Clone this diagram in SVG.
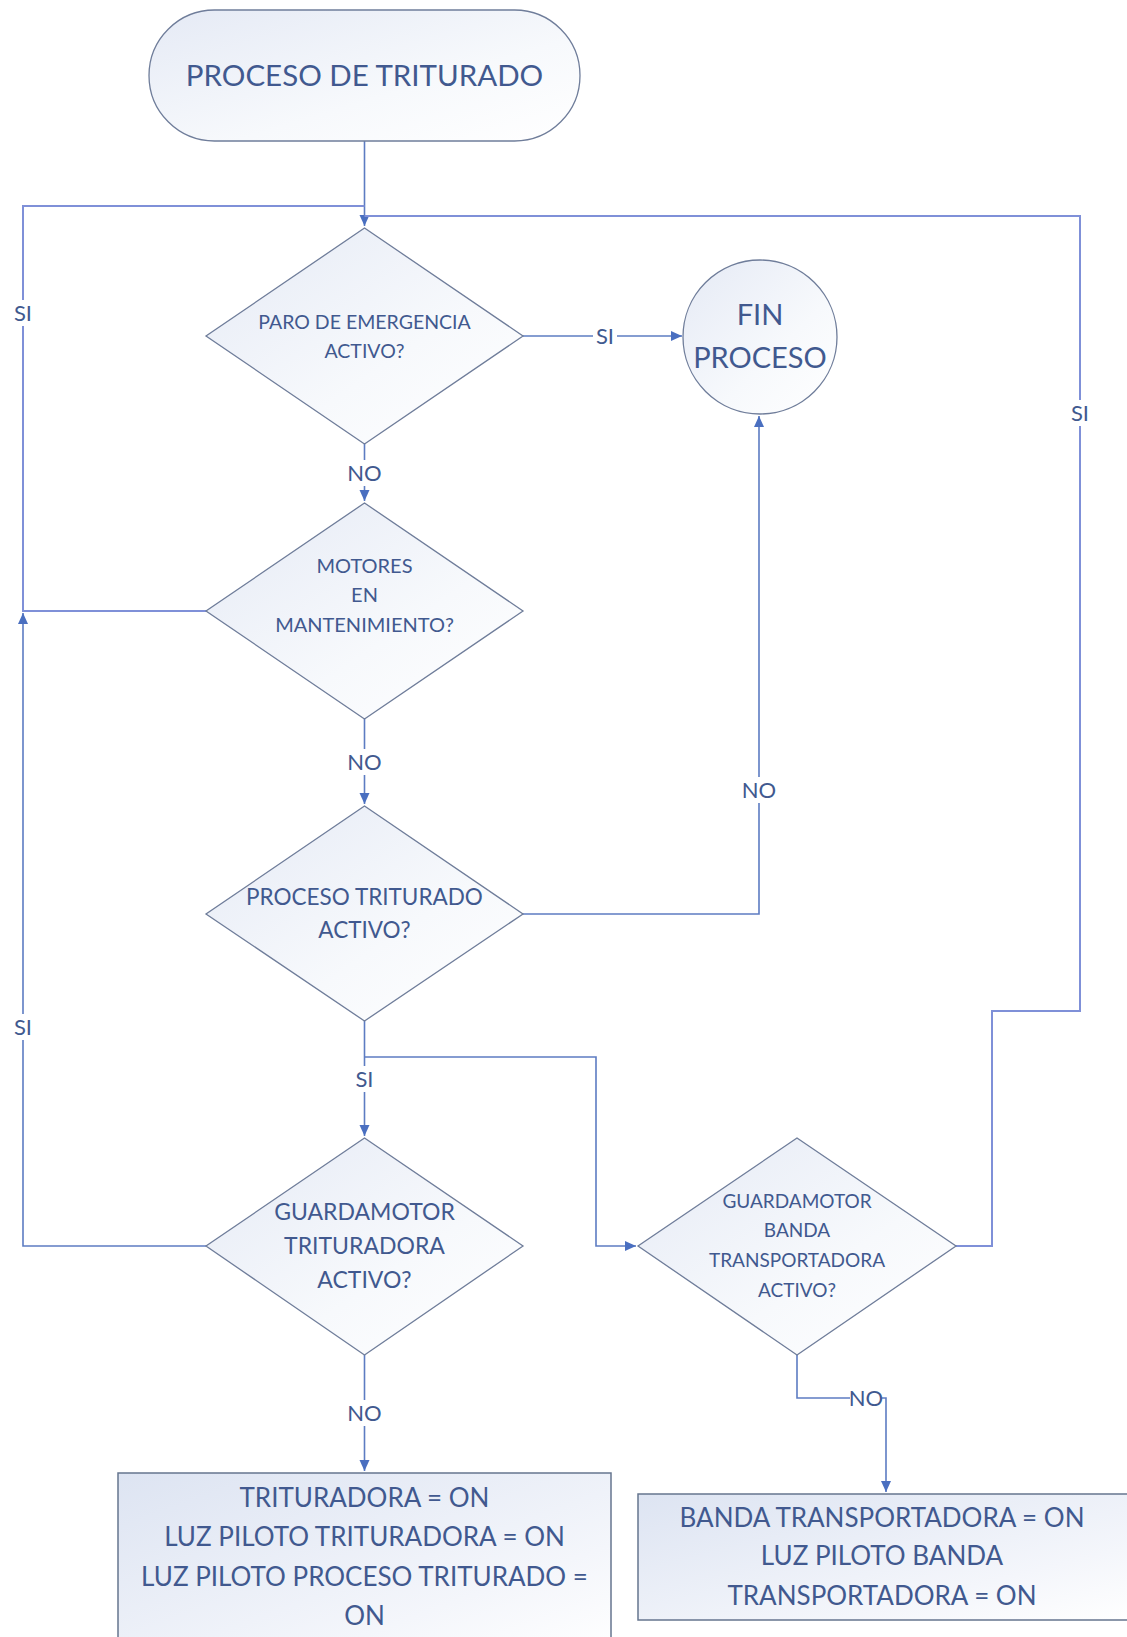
<svg xmlns="http://www.w3.org/2000/svg" width="1127" height="1637" viewBox="0 0 1127 1637">
  <defs>
    <linearGradient id="shapeFill" x1="0" y1="0" x2="1" y2="1">
      <stop offset="0" stop-color="#e5eaf5"/>
      <stop offset="0.6" stop-color="#f7f9fc"/>
      <stop offset="1" stop-color="#ffffff"/>
    </linearGradient>
    <linearGradient id="boxFill" x1="0" y1="0" x2="1" y2="1">
      <stop offset="0" stop-color="#dde4f2"/>
      <stop offset="0.7" stop-color="#f4f6fb"/>
      <stop offset="1" stop-color="#ffffff"/>
    </linearGradient>
    <marker id="arrow" markerUnits="userSpaceOnUse" markerWidth="12" markerHeight="12" viewBox="0 0 12 12" refX="11" refY="6" orient="auto">
      <path d="M0,1 L11,6 L0,11 Z" fill="#4a6fc0"/>
    </marker>
  </defs>
  <style>
    .shape { fill: url(#shapeFill); stroke: #6f7d9a; stroke-width: 1.3; }
    .box { fill: url(#boxFill); stroke: #66758f; stroke-width: 1.5; }
    .wire { fill: none; stroke: #5d7cc2; stroke-width: 1.6; }
    .wire-top { fill: none; stroke: #7f90d8; stroke-width: 2; }
    .txt { font-family: Lato, "Liberation Sans", sans-serif; fill: #41598f; text-anchor: middle; }
    .lbl { font-family: Lato, "Liberation Sans", sans-serif; fill: #41598f; text-anchor: middle; font-size: 22px; }
    .lblbg { fill: #ffffff; }
  </style>
  <rect width="1127" height="1637" fill="#ffffff"/>

  <!-- connectors -->
  <g id="connectors">
    <path class="wire" d="M364.5,141 V226" marker-end="url(#arrow)"/>
    <path class="wire" d="M523,336 H682" marker-end="url(#arrow)"/>
    <path class="wire" d="M364.5,444 V501" marker-end="url(#arrow)"/>
    <path class="wire-top" d="M206,611 H23 V206 H364.5"/>
    <path class="wire" d="M364.5,719 V804" marker-end="url(#arrow)"/>
    <path class="wire" d="M523,914 H759 V416" marker-end="url(#arrow)"/>
    <path class="wire" d="M364.5,1021 V1136" marker-end="url(#arrow)"/>
    <path class="wire" d="M364.5,1057 H596 V1246 H636" marker-end="url(#arrow)"/>
    <path class="wire" d="M206,1246 H23 V613" marker-end="url(#arrow)"/>
    <path class="wire" d="M364.5,1355 V1471" marker-end="url(#arrow)"/>
    <path class="wire-top" d="M956,1246 H992 V1011 H1080 V216 H364.5"/>
    <path class="wire" d="M797,1355 V1398 H886 V1492" marker-end="url(#arrow)"/>

    <!-- branch labels -->
    <rect class="lblbg" x="593" y="324" width="24" height="24"/>
    <text class="lbl" x="605" y="344">SI</text>
    <rect class="lblbg" x="345" y="460" width="39" height="26"/>
    <text class="lbl" x="364.5" y="481">NO</text>
    <rect class="lblbg" x="11" y="300" width="24" height="26"/>
    <text class="lbl" x="23" y="321">SI</text>
    <rect class="lblbg" x="345" y="749" width="39" height="26"/>
    <text class="lbl" x="364.5" y="770">NO</text>
    <rect class="lblbg" x="740" y="777" width="39" height="26"/>
    <text class="lbl" x="759" y="798">NO</text>
    <rect class="lblbg" x="352" y="1066" width="25" height="26"/>
    <text class="lbl" x="364.5" y="1087">SI</text>
    <rect class="lblbg" x="11" y="1014" width="24" height="26"/>
    <text class="lbl" x="23" y="1035">SI</text>
    <rect class="lblbg" x="345" y="1400" width="39" height="26"/>
    <text class="lbl" x="364.5" y="1421">NO</text>
    <rect class="lblbg" x="1068" y="400" width="24" height="26"/>
    <text class="lbl" x="1080" y="421">SI</text>
    <rect class="lblbg" x="850" y="1386" width="32" height="24"/>
    <text class="lbl" x="866" y="1406">NO</text>
  </g>

  <!-- start terminal -->
  <g id="start">
    <rect class="shape" x="149" y="10" width="431" height="131" rx="65.5" ry="65.5"/>
    <text class="txt" x="364.5" y="86" font-size="29.5">PROCESO DE TRITURADO</text>
  </g>

  <!-- end terminal -->
  <g id="end">
    <circle class="shape" cx="760" cy="337" r="77"/>
    <text class="txt" x="760" y="325" font-size="29">FIN</text>
    <text class="txt" x="760" y="368" font-size="29">PROCESO</text>
  </g>

  <!-- decision: emergency stop -->
  <g id="d-emergencia">
    <polygon class="shape" points="364.5,228 523,336 364.5,444 206,336"/>
    <text class="txt" x="364.5" y="329" font-size="19.5">PARO DE EMERGENCIA</text>
    <text class="txt" x="364.5" y="358" font-size="19.5">ACTIVO?</text>
  </g>

  <!-- decision: maintenance -->
  <g id="d-mantenimiento">
    <polygon class="shape" points="364.5,503 523,611 364.5,719 206,611"/>
    <text class="txt" x="364.5" y="573" font-size="20">MOTORES</text>
    <text class="txt" x="364.5" y="602" font-size="20">EN</text>
    <text class="txt" x="364.5" y="632" font-size="20">MANTENIMIENTO?</text>
  </g>

  <!-- decision: process active -->
  <g id="d-proceso">
    <polygon class="shape" points="364.5,806 523,914 364.5,1021 206,914"/>
    <text class="txt" x="364.5" y="905" font-size="22.5">PROCESO TRITURADO</text>
    <text class="txt" x="364.5" y="938" font-size="22.5">ACTIVO?</text>
  </g>

  <!-- decision: crusher motor guard -->
  <g id="d-guard-trituradora">
    <polygon class="shape" points="364.5,1138 523,1246 364.5,1355 206,1246"/>
    <text class="txt" x="364.5" y="1220" font-size="23">GUARDAMOTOR</text>
    <text class="txt" x="364.5" y="1254" font-size="23">TRITURADORA</text>
    <text class="txt" x="364.5" y="1288" font-size="23">ACTIVO?</text>
  </g>

  <!-- decision: conveyor motor guard -->
  <g id="d-guard-banda">
    <polygon class="shape" points="797,1138 956,1246 797,1355 638,1246"/>
    <text class="txt" x="797" y="1208" font-size="19">GUARDAMOTOR</text>
    <text class="txt" x="797" y="1237" font-size="19">BANDA</text>
    <text class="txt" x="797" y="1267" font-size="19">TRANSPORTADORA</text>
    <text class="txt" x="797" y="1297" font-size="19">ACTIVO?</text>
  </g>

  <!-- action: crusher on -->
  <g id="a-trituradora">
    <rect class="box" x="118" y="1473" width="493" height="180"/>
    <text class="txt" x="364.5" y="1507" font-size="26">TRITURADORA = ON</text>
    <text class="txt" x="364.5" y="1546" font-size="26">LUZ PILOTO TRITURADORA = ON</text>
    <text class="txt" x="364.5" y="1586" font-size="26">LUZ PILOTO PROCESO TRITURADO =</text>
    <text class="txt" x="364.5" y="1625" font-size="26">ON</text>
  </g>

  <!-- action: conveyor on -->
  <g id="a-banda">
    <rect class="box" x="638" y="1494" width="500" height="126"/>
    <text class="txt" x="882" y="1527" font-size="26">BANDA TRANSPORTADORA = ON</text>
    <text class="txt" x="882" y="1565" font-size="26">LUZ PILOTO BANDA</text>
    <text class="txt" x="882" y="1605" font-size="26">TRANSPORTADORA = ON</text>
  </g>
</svg>
